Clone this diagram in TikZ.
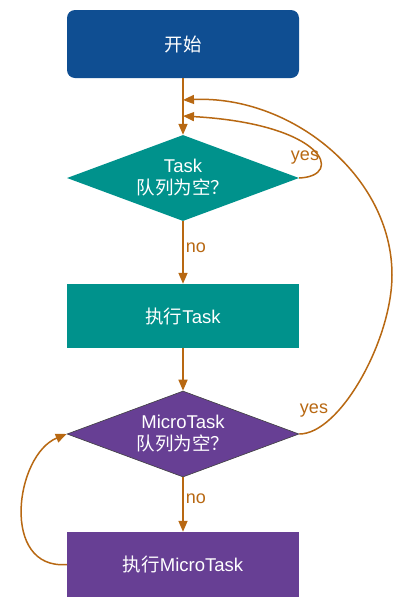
\documentclass[tikz,border=0pt]{standalone}
\usepackage{fontspec}
\setmainfont{Liberation Sans}
\newfontfamily\cjk{Noto Sans CJK SC}
\usepackage{tikz}
\usetikzlibrary{shapes.geometric,arrows.meta}
\begin{document}
\begin{tikzpicture}[x=1pt,y=-1pt,
  box/.style={rectangle,minimum width=232pt,inner sep=0pt,text=white,font=\fontsize{18.5}{22}\selectfont},
  cond/.style={diamond,minimum width=232pt,minimum height=86pt,aspect=2.7,inner sep=0pt,text=white,align=center,font=\fontsize{18.5}{22}\selectfont},
  flow/.style={draw=arrowColor,line width=1.5pt,-{Triangle[length=11pt,width=9pt]}},
  lbl/.style={text=arrowColor,inner sep=0pt,font=\fontsize{18}{20}\selectfont}]
\definecolor{fillColor}{RGB}{255,255,255}
\definecolor{blueColor}{RGB}{15,78,146}
\definecolor{tealColor}{RGB}{0,146,140}
\definecolor{purpleColor}{RGB}{103,63,148}
\definecolor{arrowColor}{RGB}{184,104,18}
\path[use as bounding box,fill=fillColor] (0,0) rectangle (416,614);

\node[box,fill=blueColor,rounded corners=8pt,minimum height=68pt] (start) at (183,44) {\cjk 开始};

\node[cond,fill=tealColor] (taskq) at (183,178) {Task\\{\cjk 队列为空？}};

\node[box,fill=tealColor,minimum height=64pt] (runtask) at (183,316) {{\cjk 执行}Task};

\node[cond,fill=purpleColor,draw=black!75,line width=0.6pt] (microq) at (183,434) {MicroTask\\{\cjk 队列为空？}};

\node[box,fill=purpleColor,minimum height=65pt] (runmicro) at (183,564.5) {{\cjk 执行}MicroTask};

\coordinate (back1) at (183,100);
\coordinate (back2) at (183,116);

\path[flow] (start) -- (taskq);

\path[flow] (taskq) -- (runtask);

\path[flow] (runtask) -- (microq);

\path[flow] (microq) -- (runmicro);

\path[flow] (taskq.east) .. controls (345,176) and (325,124) .. (back2);

\path[flow] (microq.east) .. controls (340,434) and (392,340) .. (392,275)
  .. controls (392,175) and (290,95) .. (back1);

\path[flow] (runmicro.west) .. controls (0,570) and (15,455) .. (microq.west);

\node[lbl] (yes1) at (305,158) {yes};

\node[lbl] (no1) at (196,248) {no};

\node[lbl] (yes2) at (314,411) {yes};

\node[lbl] (no2) at (196,499) {no};
\end{tikzpicture}
\end{document}
